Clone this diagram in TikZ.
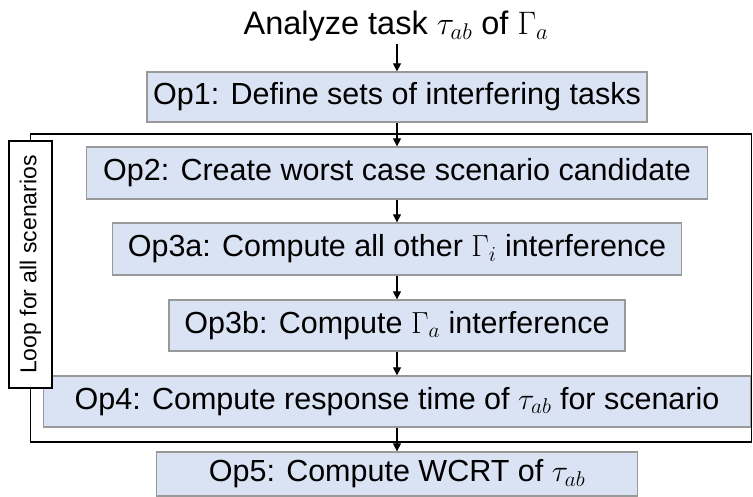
\documentclass[tikz,border=0pt]{standalone}
\usepackage{fix-cm}
\usepackage{fontspec}
\setmainfont{Liberation Sans}
\usetikzlibrary{arrows.meta}
\definecolor{boxfill}{HTML}{DAE3F3}
\definecolor{boxline}{HTML}{999999}
\begin{document}
\begin{tikzpicture}[x=1pt,y=1pt,
  opbox/.style={draw=boxline, line width=1.3pt, fill=boxfill, inner sep=0pt,
    font=\fontsize{30.5}{35}\selectfont, align=center},
  flow/.style={line width=1.3pt, -{Triangle[length=8pt,width=8pt]}},
  frameline/.style={line width=1.4pt}]
\useasboundingbox (0,0) rectangle (753,497);
\node[font=\fontsize{32.5}{37}\selectfont, anchor=base, inner sep=2pt] (title) at (396,462) {Analyze task $\tau_{ab}$ of $\Gamma_a$};
\node[opbox, minimum width=500pt, minimum height=50pt] (op1) at (397,400) {Op1: Define sets of interfering tasks};
\node[opbox, minimum width=621pt, minimum height=52pt] (op2) at (397,324) {Op2: Create worst case scenario candidate};
\node[opbox, minimum width=569pt, minimum height=52pt] (op3a) at (397,248) {Op3a: Compute all other $\Gamma_i$ interference};
\node[opbox, minimum width=456pt, minimum height=51pt] (op3b) at (397,171.5) {Op3b: Compute $\Gamma_a$ interference};
\node[opbox, minimum width=707pt, minimum height=51pt] (op4) at (397,95.5) {Op4: Compute response time of $\tau_{ab}$ for scenario};
\node[opbox, minimum width=481pt, minimum height=44pt] (op5) at (397,23) {Op5: Compute WCRT of $\tau_{ab}$};
\node[draw, line width=1.3pt, fill=white, rotate=90, inner sep=0pt,
  minimum width=247pt, minimum height=43pt, font=\fontsize{23}{27}\selectfont] (loop) at (30.5,232.5) {Loop for all scenarios};
\coordinate (ftr) at (751.5,363);
\coordinate (fbr) at (751.5,55);
\draw[frameline] (loop.east) |- (ftr) -- (fbr) -| (loop.west);
\draw[flow] (title.south -| op1.north) -- (op1.north);
\draw[flow] (op1.south) -- (op2.north);
\draw[flow] (op2.south) -- (op3a.north);
\draw[flow] (op3a.south) -- (op3b.north);
\draw[flow] (op3b.south) -- (op4.north);
\draw[flow] (op4.south) -- (op5.north);
\end{tikzpicture}
\end{document}
